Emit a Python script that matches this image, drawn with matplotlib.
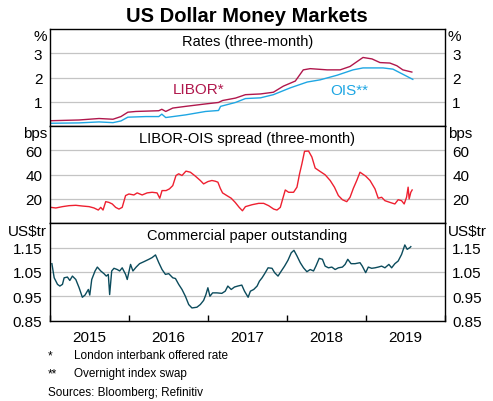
import matplotlib
matplotlib.use("Agg")
import matplotlib.pyplot as plt
from matplotlib.ticker import FixedLocator, NullFormatter, FixedFormatter

plt.rcParams['font.family'] = ['Liberation Sans', 'DejaVu Sans']

# ---------------- data (decimal years) ----------------
libor_t = [2015.015, 2015.369, 2015.621, 2015.798, 2015.899, 2015.987, 2016.088, 2016.379, 2016.417,
           2016.467, 2016.556, 2016.72, 2016.972, 2017.136, 2017.187, 2017.351, 2017.414, 2017.477,
           2017.667, 2017.831, 2017.957, 2018.109, 2018.21, 2018.298, 2018.513, 2018.677, 2018.803,
           2018.967, 2019.081, 2019.182, 2019.308, 2019.396, 2019.472, 2019.586]
libor_v = [0.23, 0.26, 0.32, 0.29, 0.40, 0.58, 0.61, 0.64, 0.70,
           0.61, 0.75, 0.82, 0.92, 0.98, 1.06, 1.16, 1.23, 1.30,
           1.33, 1.40, 1.65, 1.86, 2.32, 2.37, 2.32, 2.32, 2.46,
           2.83, 2.77, 2.62, 2.60, 2.49, 2.32, 2.23]

ois_t = [2015.015, 2015.369, 2015.621, 2015.798, 2015.899, 2015.987, 2016.215, 2016.379, 2016.417,
         2016.467, 2016.72, 2016.972, 2017.136, 2017.162, 2017.351, 2017.477, 2017.667, 2017.831,
         2018.045, 2018.26, 2018.424, 2018.639, 2018.841, 2018.967, 2019.22, 2019.346, 2019.472, 2019.598]
ois_v = [0.125, 0.14, 0.18, 0.15, 0.22, 0.375, 0.40, 0.40, 0.50,
         0.36, 0.47, 0.61, 0.65, 0.82, 0.98, 1.14, 1.17, 1.30,
         1.58, 1.82, 1.91, 2.10, 2.32, 2.40, 2.40, 2.35, 2.14, 1.93]

spread_t = [2015.011, 2015.074, 2015.158, 2015.242, 2015.327, 2015.41, 2015.495, 2015.558, 2015.612,
            2015.643, 2015.672, 2015.706, 2015.747, 2015.789, 2015.832, 2015.874, 2015.915, 2015.958,
            2016.0, 2016.063, 2016.105, 2016.168, 2016.231, 2016.294, 2016.357, 2016.391, 2016.42,
            2016.471, 2016.514, 2016.556, 2016.597, 2016.631, 2016.673, 2016.723, 2016.779, 2016.842,
            2016.905, 2016.947, 2017.001, 2017.052, 2017.095, 2017.128, 2017.158, 2017.187, 2017.241,
            2017.297, 2017.347, 2017.398, 2017.439, 2017.477, 2017.562, 2017.645, 2017.708, 2017.771,
            2017.835, 2017.877, 2017.919, 2017.949, 2017.982, 2018.024, 2018.087, 2018.13, 2018.163,
            2018.193, 2018.226, 2018.277, 2018.319, 2018.361, 2018.424, 2018.487, 2018.551, 2018.605,
            2018.655, 2018.706, 2018.761, 2018.803, 2018.845, 2018.888, 2018.929, 2018.958, 2019.001,
            2019.056, 2019.119, 2019.16, 2019.203, 2019.245, 2019.308, 2019.371, 2019.413, 2019.456,
            2019.489, 2019.519, 2019.539, 2019.552, 2019.573, 2019.59]
spread_v = [13.1, 12.6, 13.7, 14.5, 14.8, 14.2, 13.7, 12.6, 10.9,
            13.1, 10.9, 17.8, 17.2, 15.9, 13.1, 11.7, 13.1, 22.8,
            24.1, 23.3, 25.0, 23.3, 25.0, 25.5, 25.0, 20.6, 26.9,
            26.9, 28.3, 31.0, 39.3, 40.7, 39.3, 42.9, 42.0, 38.8,
            35.2, 32.4, 34.3, 35.2, 34.6, 33.8, 28.8, 25.0, 22.8,
            20.6, 17.2, 13.1, 10.3, 13.7, 15.3, 16.4, 16.4, 14.5,
            11.7, 10.9, 13.1, 20.0, 27.4, 25.5, 25.5, 29.7, 40.7,
            49.0, 59.2, 59.4, 54.5, 45.4, 42.6, 39.9, 35.2, 29.7,
            22.8, 19.4, 17.8, 21.4, 28.8, 35.2, 42.0, 40.7, 38.8,
            35.2, 28.3, 20.6, 21.4, 18.6, 17.2, 15.9, 19.4, 18.6,
            15.9, 21.4, 29.7, 20.0, 25.5, 27.4]

cp_t = [2015.024, 2015.053, 2015.095, 2015.125, 2015.158, 2015.179, 2015.221, 2015.251, 2015.284,
        2015.327, 2015.369, 2015.41, 2015.444, 2015.486, 2015.504, 2015.529, 2015.571, 2015.6,
        2015.643, 2015.684, 2015.713, 2015.739, 2015.756, 2015.782, 2015.811, 2015.852, 2015.883,
        2015.915, 2015.958, 2015.979, 2016.021, 2016.051, 2016.092, 2016.135, 2016.189, 2016.253,
        2016.294, 2016.337, 2016.379, 2016.42, 2016.463, 2016.505, 2016.556, 2016.59, 2016.631,
        2016.673, 2016.716, 2016.758, 2016.799, 2016.862, 2016.905, 2016.947, 2016.976, 2017.001,
        2017.027, 2017.061, 2017.115, 2017.178, 2017.221, 2017.254, 2017.297, 2017.338, 2017.38,
        2017.431, 2017.465, 2017.511, 2017.54, 2017.582, 2017.625, 2017.654, 2017.688, 2017.721,
        2017.764, 2017.814, 2017.847, 2017.89, 2017.932, 2017.973, 2018.016, 2018.058, 2018.092,
        2018.13, 2018.172, 2018.213, 2018.256, 2018.298, 2018.34, 2018.37, 2018.412, 2018.453,
        2018.487, 2018.529, 2018.572, 2018.614, 2018.655, 2018.706, 2018.74, 2018.774, 2018.816,
        2018.866, 2018.929, 2018.958, 2019.001, 2019.034, 2019.077, 2019.119, 2019.16, 2019.203,
        2019.245, 2019.295, 2019.33, 2019.371, 2019.413, 2019.456, 2019.497, 2019.527, 2019.561,
        2019.573]
cp_v = [1.084, 1.026, 0.999, 0.992, 0.999, 1.026, 1.029, 1.015, 1.033,
        1.019, 0.985, 0.946, 0.955, 0.978, 0.955, 1.019, 1.054, 1.070,
        1.054, 1.043, 1.033, 1.040, 0.957, 1.054, 1.065, 1.060, 1.054,
        1.067, 1.040, 1.019, 1.081, 1.054, 1.070, 1.084, 1.092, 1.102,
        1.109, 1.120, 1.088, 1.060, 1.040, 1.043, 1.026, 1.023, 0.999,
        0.978, 0.950, 0.916, 0.902, 0.905, 0.916, 0.933, 0.957, 0.985,
        0.950, 0.964, 0.964, 0.962, 0.971, 0.992, 0.978, 0.988, 0.992,
        0.996, 0.971, 0.946, 0.971, 0.978, 0.992, 1.012, 1.026, 1.043,
        1.067, 1.065, 1.047, 1.033, 1.054, 1.074, 1.098, 1.129, 1.139,
        1.116, 1.088, 1.067, 1.051, 1.060, 1.054, 1.074, 1.106, 1.102,
        1.074, 1.067, 1.070, 1.060, 1.067, 1.070, 1.081, 1.102, 1.084,
        1.084, 1.088, 1.074, 1.047, 1.070, 1.065, 1.067, 1.070, 1.074,
        1.067, 1.081, 1.067, 1.084, 1.095, 1.122, 1.161, 1.143, 1.150,
        1.154]

year_labels = ['2015', '2016', '2017', '2018', '2019']
rate_ticks = [1, 2, 3]
spread_ticks = [20, 40, 60]
cp_ticks = [0.85, 0.95, 1.05, 1.15]
cp_ticklabels = ['0.85', '0.95', '1.05', '1.15']

# ---------------- styling ----------------
C_LIBOR = '#b0174c'
C_OIS = '#1ea6e3'
C_SPREAD = '#ee2030'
C_CP = '#0b4b5c'
GRID = '#c4c4c4'
TICK_FS = 11
SUB_FS = 10.5

fig = plt.figure(figsize=(4.93, 4.02), dpi=100)
L, W = 50 / 493, 394.5 / 493
H = 97.3 / 402
bottoms = [1 - 127.3 / 402, 1 - 224.3 / 402, 1 - 321.6 / 402]
axes = [fig.add_axes([L, b, W, H]) for b in bottoms]

def style(ax, ylim, ticks, ticklabels, unit, subtitle):
    ax.set_xlim(2015.0, 2020.0)
    ax.set_ylim(*ylim)
    ax.set_yticks(ticks)
    ax.set_yticklabels(ticklabels)
    ax.tick_params(axis='y', which='both', left=False, right=False,
                   labelleft=True, labelright=True, labelsize=TICK_FS, pad=2)
    ax.grid(axis='y', color=GRID, lw=0.9)
    ax.set_axisbelow(True)
    for s in ax.spines.values():
        s.set_linewidth(1.0)
        s.set_color('black')
    ax.text(-0.008, 0.995, unit, transform=ax.transAxes, ha='right', va='top', fontsize=TICK_FS)
    ax.text(1.008, 0.995, unit, transform=ax.transAxes, ha='left', va='top', fontsize=TICK_FS)
    ax.text(0.5, 0.88, subtitle, transform=ax.transAxes, ha='center', va='center', fontsize=SUB_FS)

ax1, ax2, ax3 = axes
style(ax1, (0, 4), rate_ticks, [str(v) for v in rate_ticks], '%', 'Rates (three-month)')
style(ax2, (0, 80), spread_ticks, [str(v) for v in spread_ticks], 'bps', 'LIBOR-OIS spread (three-month)')
style(ax3, (0.85, 1.25), cp_ticks, cp_ticklabels, 'US$tr', 'Commercial paper outstanding')

ax1.plot(libor_t, libor_v, color=C_LIBOR, lw=1.0)
ax1.plot(ois_t, ois_v, color=C_OIS, lw=1.0)
ax1.text(2016.88, 1.55, 'LIBOR*', color=C_LIBOR, fontsize=11, ha='center', va='center')
ax1.text(2018.79, 1.51, 'OIS**', color=C_OIS, fontsize=11, ha='center', va='center')

ax2.plot(spread_t, spread_v, color=C_SPREAD, lw=1.0)
ax3.plot(cp_t, cp_v, color=C_CP, lw=1.0)

for ax in (ax1, ax2):
    ax.tick_params(axis='x', which='both', bottom=False, top=False, labelbottom=False)

years = [2015, 2016, 2017, 2018, 2019, 2020]
mids = [2015.5, 2016.5, 2017.5, 2018.5, 2019.5]
ax3.xaxis.set_major_locator(FixedLocator(years))
ax3.xaxis.set_major_formatter(NullFormatter())
ax3.xaxis.set_minor_locator(FixedLocator(mids))
ax3.xaxis.set_minor_formatter(FixedFormatter(year_labels))
ax3.tick_params(axis='x', which='major', direction='in', length=4, width=1.0)
ax3.tick_params(axis='x', which='minor', length=0, labelsize=TICK_FS, pad=7)

fig.text(247 / 493, 1 - 16 / 402, 'US Dollar Money Markets', ha='center', va='center',
         fontsize=14.5, fontweight='bold')

FN = 8.5
fig.text(48 / 493, 1 - 356 / 402, '*', ha='left', va='center', fontsize=FN)
fig.text(74 / 493, 1 - 356 / 402, 'London interbank offered rate', ha='left', va='center', fontsize=FN)
fig.text(48 / 493, 1 - 374 / 402, '**', ha='left', va='center', fontsize=FN)
fig.text(74 / 493, 1 - 374 / 402, 'Overnight index swap', ha='left', va='center', fontsize=FN)
fig.text(48 / 493, 1 - 393 / 402, 'Sources: Bloomberg; Refinitiv', ha='left', va='center', fontsize=FN)

fig.savefig('out.png', dpi=100)
